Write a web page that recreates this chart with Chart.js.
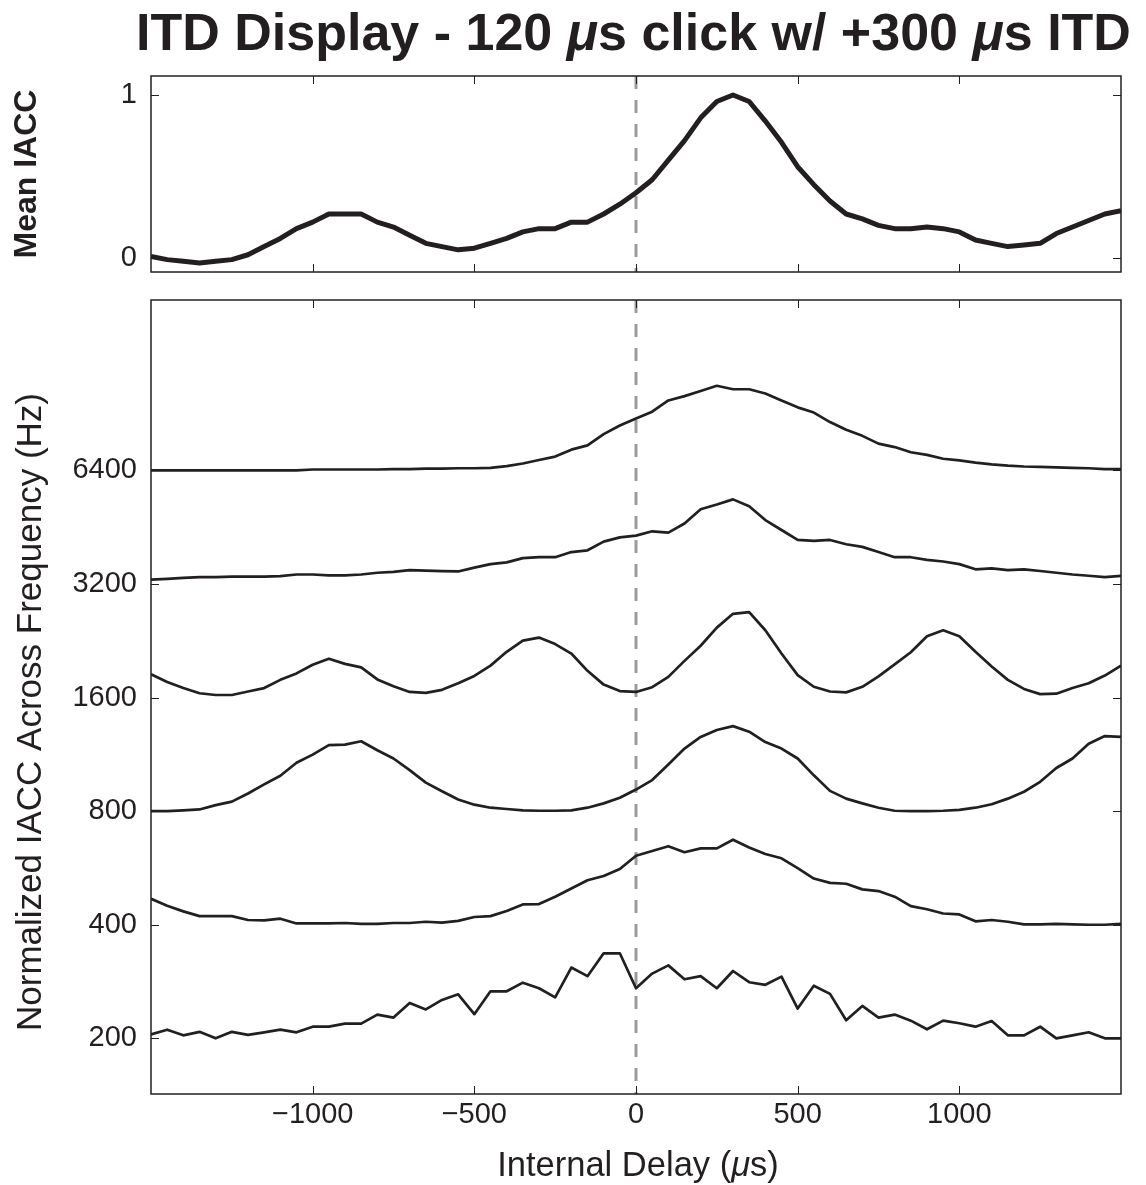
<!DOCTYPE html>
<html>
<head>
<meta charset="utf-8">
<script src="https://cdn.jsdelivr.net/npm/chart.js@4.4.1/dist/chart.umd.min.js"></script>
<style>
html,body{margin:0;padding:0;background:#fff;overflow:hidden;width:1146px;height:1185px;}
#cTop{position:absolute;left:0;top:0;}
#cBot{position:absolute;left:0;top:290px;}
</style>
</head>
<body>
<canvas id="cTop" width="1146" height="290"></canvas>
<canvas id="cBot" width="1146" height="895"></canvas>
<script>
// ---------------- DATA ----------------
const delays = [-1500,-1450,-1400,-1350,-1300,-1250,-1200,-1150,-1100,-1050,-1000,-950,-900,-850,-800,-750,-700,-650,-600,-550,-500,-450,-400,-350,-300,-250,-200,-150,-100,-50,0,50,100,150,200,250,300,350,400,450,500,550,600,650,700,750,800,850,900,950,1000,1050,1100,1150,1200,1250,1300,1350,1400,1450,1500];

const meanIACC = [0.01,-0.01,-0.02,-0.03,-0.02,-0.01,0.02,0.07,0.12,0.18,0.22,0.27,0.27,0.27,0.22,0.19,0.14,0.09,0.07,0.05,0.06,0.09,0.12,0.16,0.18,0.18,0.22,0.22,0.27,0.33,0.40,0.48,0.60,0.72,0.86,0.96,1.00,0.96,0.84,0.71,0.56,0.45,0.35,0.27,0.24,0.20,0.18,0.18,0.19,0.18,0.16,0.11,0.09,0.07,0.08,0.09,0.15,0.19,0.23,0.27,0.29];

const iacc200 = [0.045,0.10,0.035,0.075,0.0,0.075,0.04,0.07,0.10,0.07,0.135,0.135,0.17,0.17,0.275,0.24,0.41,0.335,0.445,0.51,0.28,0.545,0.545,0.645,0.58,0.475,0.82,0.72,0.985,0.985,0.58,0.75,0.845,0.685,0.72,0.58,0.78,0.65,0.62,0.715,0.345,0.61,0.515,0.21,0.375,0.24,0.275,0.205,0.105,0.205,0.175,0.135,0.20,0.035,0.035,0.135,0.0,0.035,0.07,0.0,0.0];

const iacc400 = [0.30,0.22,0.155,0.10,0.10,0.10,0.055,0.05,0.07,0.015,0.015,0.015,0.02,0.01,0.01,0.02,0.02,0.035,0.025,0.045,0.09,0.10,0.16,0.235,0.24,0.325,0.42,0.515,0.565,0.645,0.80,0.855,0.91,0.84,0.885,0.885,0.985,0.895,0.82,0.77,0.655,0.535,0.485,0.475,0.41,0.39,0.325,0.215,0.18,0.13,0.12,0.04,0.055,0.035,0.005,0.005,0.01,0.005,0.0,0.0,0.01];

const iacc800 = [0.0,0.0,0.01,0.02,0.07,0.11,0.205,0.31,0.41,0.56,0.655,0.765,0.77,0.81,0.705,0.61,0.475,0.33,0.23,0.135,0.075,0.04,0.025,0.01,0.005,0.005,0.01,0.04,0.09,0.155,0.25,0.36,0.54,0.725,0.86,0.94,0.985,0.92,0.80,0.725,0.61,0.415,0.235,0.145,0.09,0.04,0.005,0.0,0.0,0.005,0.015,0.04,0.08,0.145,0.225,0.34,0.50,0.61,0.78,0.87,0.86];

const iacc1600 = [0.27,0.18,0.11,0.05,0.03,0.03,0.07,0.11,0.205,0.28,0.38,0.45,0.39,0.35,0.21,0.13,0.065,0.055,0.09,0.165,0.25,0.37,0.53,0.66,0.695,0.62,0.51,0.31,0.15,0.075,0.065,0.12,0.24,0.425,0.60,0.81,0.97,0.99,0.78,0.51,0.26,0.125,0.07,0.06,0.125,0.245,0.385,0.525,0.71,0.78,0.71,0.53,0.36,0.205,0.10,0.04,0.045,0.11,0.165,0.255,0.37];

const iacc3200 = [0.05,0.06,0.07,0.08,0.08,0.085,0.085,0.085,0.09,0.11,0.11,0.10,0.10,0.11,0.13,0.14,0.16,0.155,0.15,0.145,0.19,0.23,0.25,0.30,0.31,0.31,0.37,0.39,0.49,0.54,0.56,0.61,0.595,0.70,0.865,0.92,0.98,0.90,0.74,0.625,0.51,0.50,0.51,0.46,0.43,0.37,0.31,0.31,0.28,0.26,0.23,0.17,0.18,0.16,0.17,0.15,0.13,0.11,0.095,0.08,0.095];

const iacc6400 = [0,0,0,0,0,0,0,0,0,0.0,0.01,0.01,0.01,0.01,0.01,0.015,0.015,0.02,0.02,0.025,0.025,0.03,0.05,0.08,0.12,0.16,0.24,0.29,0.42,0.52,0.60,0.68,0.81,0.86,0.92,0.98,0.94,0.94,0.89,0.81,0.73,0.67,0.56,0.47,0.40,0.31,0.27,0.21,0.18,0.135,0.115,0.09,0.07,0.055,0.045,0.04,0.035,0.03,0.025,0.015,0.015];

const bandSeries = [iacc200, iacc400, iacc800, iacc1600, iacc3200, iacc6400];
const freqLabels = ['200','400','800','1600','3200','6400'];
const xTickValues = [-1000,-500,0,500,1000];
const xTickLabels = ['\u22121000','\u2212500','0','500','1000'];
const meanTickValues = [0,1];
const meanTickLabels = ['0','1'];
const refDelay = 0;

// text pieces: [text, italic?]
const titleParts = [['ITD Display - 120 ', false], ['\u03bc', true], ['s click w/ +300 ', false], ['\u03bc', true], ['s ITD', false]];
const xTitleParts = [['Internal Delay (', false], ['\u03bc', true], ['s)', false]];
const yTitleBottom = 'Normalized IACC Across Frequency (Hz)';
const yTitleTop = 'Mean IACC';

// ---------------- STYLE ----------------
const FONT = "'Liberation Sans', Arial, Helvetica, sans-serif";
const INK = '#231f20';
const bandScale = 0.76;

Chart.defaults.font.family = FONT;
Chart.defaults.color = INK;

function drawParts(ctx, parts, size, weight, cx, y, baseline) {
  ctx.save();
  ctx.fillStyle = INK;
  ctx.textBaseline = baseline;
  ctx.textAlign = 'left';
  const fontFor = it => (it ? 'italic ' : '') + weight + ' ' + size + 'px ' + FONT;
  let total = 0;
  const widths = parts.map(([t, it]) => { ctx.font = fontFor(it); const w = ctx.measureText(t).width; total += w; return w; });
  let x = cx - total / 2;
  parts.forEach(([t, it], i) => { ctx.font = fontFor(it); ctx.fillText(t, x, y); x += widths[i]; });
  ctx.restore();
}

const framePlugin = {
  id: 'frame',
  beforeDatasetsDraw(chart) {
    const {ctx, chartArea: a, scales: {x}} = chart;
    const px = x.getPixelForValue(refDelay);
    ctx.save();
    ctx.strokeStyle = '#9b9b9b';
    ctx.lineWidth = 3;
    ctx.setLineDash([13, 11]);
    ctx.beginPath();
    ctx.moveTo(px, a.top);
    ctx.lineTo(px, a.bottom);
    ctx.stroke();
    ctx.restore();
  },
  afterDatasetsDraw(chart) {
    const {ctx, chartArea: a, scales: {x, y}} = chart;
    const L = 8;
    ctx.save();
    ctx.strokeStyle = INK;
    ctx.lineWidth = 1;
    ctx.beginPath();
    x.ticks.forEach(t => {
      const p = Math.round(x.getPixelForValue(t.value)) + 0.5;
      ctx.moveTo(p, a.bottom); ctx.lineTo(p, a.bottom - L);
      ctx.moveTo(p, a.top); ctx.lineTo(p, a.top + L);
    });
    y.ticks.forEach(t => {
      const p = Math.round(y.getPixelForValue(t.value)) + 0.5;
      ctx.moveTo(a.left, p); ctx.lineTo(a.left + L, p);
      ctx.moveTo(a.right, p); ctx.lineTo(a.right - L, p);
    });
    ctx.stroke();
    ctx.lineWidth = 1.5;
    ctx.strokeRect(a.left, a.top, a.right - a.left, a.bottom - a.top);
    ctx.restore();
  }
};

const topTitlePlugin = {
  id: 'richTitle',
  afterDraw(chart) {
    drawParts(chart.ctx, titleParts, 52, 'bold', 633.5, 49.5, 'alphabetic');
  }
};

const bottomTitlesPlugin = {
  id: 'bottomTitles',
  afterDraw(chart) {
    const {ctx, chartArea: a} = chart;
    drawParts(ctx, xTitleParts, 34.5, 'normal', (a.left + a.right) / 2 + 2, 1166 - 290, 'middle');
    ctx.save();
    ctx.translate(31, 712 - 290);
    ctx.rotate(-Math.PI / 2);
    ctx.font = '35px ' + FONT;
    ctx.fillStyle = INK;
    ctx.textAlign = 'center';
    ctx.textBaseline = 'middle';
    ctx.fillText(yTitleBottom, 0, 0);
    ctx.restore();
  }
};

function noPad(s) {
  s.paddingTop = 0; s.paddingBottom = 0; s.paddingLeft = 0; s.paddingRight = 0;
}

function xAxis(showLabels, height) {
  return {
    type: 'linear', min: -1500, max: 1500,
    grid: {display: false, drawTicks: false},
    border: {display: false},
    afterBuildTicks: s => { s.ticks = xTickValues.map(v => ({value: v})); },
    ticks: {
      display: showLabels, padding: 4, autoSkip: false, maxRotation: 0,
      font: {size: 29, family: FONT}, color: INK,
      callback: (v) => xTickLabels[xTickValues.indexOf(v)]
    },
    afterFit: s => { s.height = height; noPad(s); }
  };
}

// ---------------- TOP CHART ----------------
new Chart(document.getElementById('cTop'), {
  type: 'line',
  data: {
    datasets: [{
      data: delays.map((d, i) => ({x: d, y: meanIACC[i]})),
      borderColor: INK, borderWidth: 5, pointRadius: 0, tension: 0,
      borderJoinStyle: 'round', fill: false
    }]
  },
  options: {
    responsive: false, animation: false, events: [],
    layout: {autoPadding: false, padding: {left: 0, right: 25, top: 76, bottom: 0}},
    plugins: {legend: {display: false}, tooltip: {enabled: false}, title: {display: false}},
    scales: {
      x: xAxis(false, 18),
      y: {
        type: 'linear', min: -0.0859, max: 1.1166,
        grid: {display: false, drawTicks: false},
        border: {display: false},
        afterBuildTicks: s => { s.ticks = meanTickValues.map(v => ({value: v})); },
        ticks: {
          padding: 14, font: {size: 29, family: FONT}, color: INK,
          callback: v => meanTickLabels[meanTickValues.indexOf(v)]
        },
        title: {
          display: true, text: yTitleTop,
          font: {size: 32, weight: 'bold', family: FONT}, color: INK,
          padding: {top: 8, bottom: 0}
        },
        afterFit: s => { s.width = 151; noPad(s); }
      }
    }
  },
  plugins: [framePlugin, topTitlePlugin]
});

// ---------------- BOTTOM CHART ----------------
new Chart(document.getElementById('cBot'), {
  type: 'line',
  data: {
    datasets: bandSeries.map((vals, b) => ({
      data: delays.map((d, i) => ({x: d, y: b + vals[i] * bandScale})),
      borderColor: INK, borderWidth: 2.7, pointRadius: 0, tension: 0,
      borderJoinStyle: 'round', fill: false
    }))
  },
  options: {
    responsive: false, animation: false, events: [],
    layout: {autoPadding: false, padding: {left: 0, right: 25, top: 10, bottom: 0}},
    plugins: {legend: {display: false}, tooltip: {enabled: false}, title: {display: false}},
    scales: {
      x: xAxis(true, 91),
      y: {
        type: 'linear', min: -0.49, max: 6.5,
        grid: {display: false, drawTicks: false},
        border: {display: false},
        afterBuildTicks: s => { s.ticks = freqLabels.map((f, i) => ({value: i})); },
        ticks: {
          padding: 14, font: {size: 29, family: FONT}, color: INK,
          callback: v => freqLabels[v]
        },
        afterFit: s => { s.width = 151; noPad(s); }
      }
    }
  },
  plugins: [framePlugin, bottomTitlesPlugin]
});
</script>
</body>
</html>
